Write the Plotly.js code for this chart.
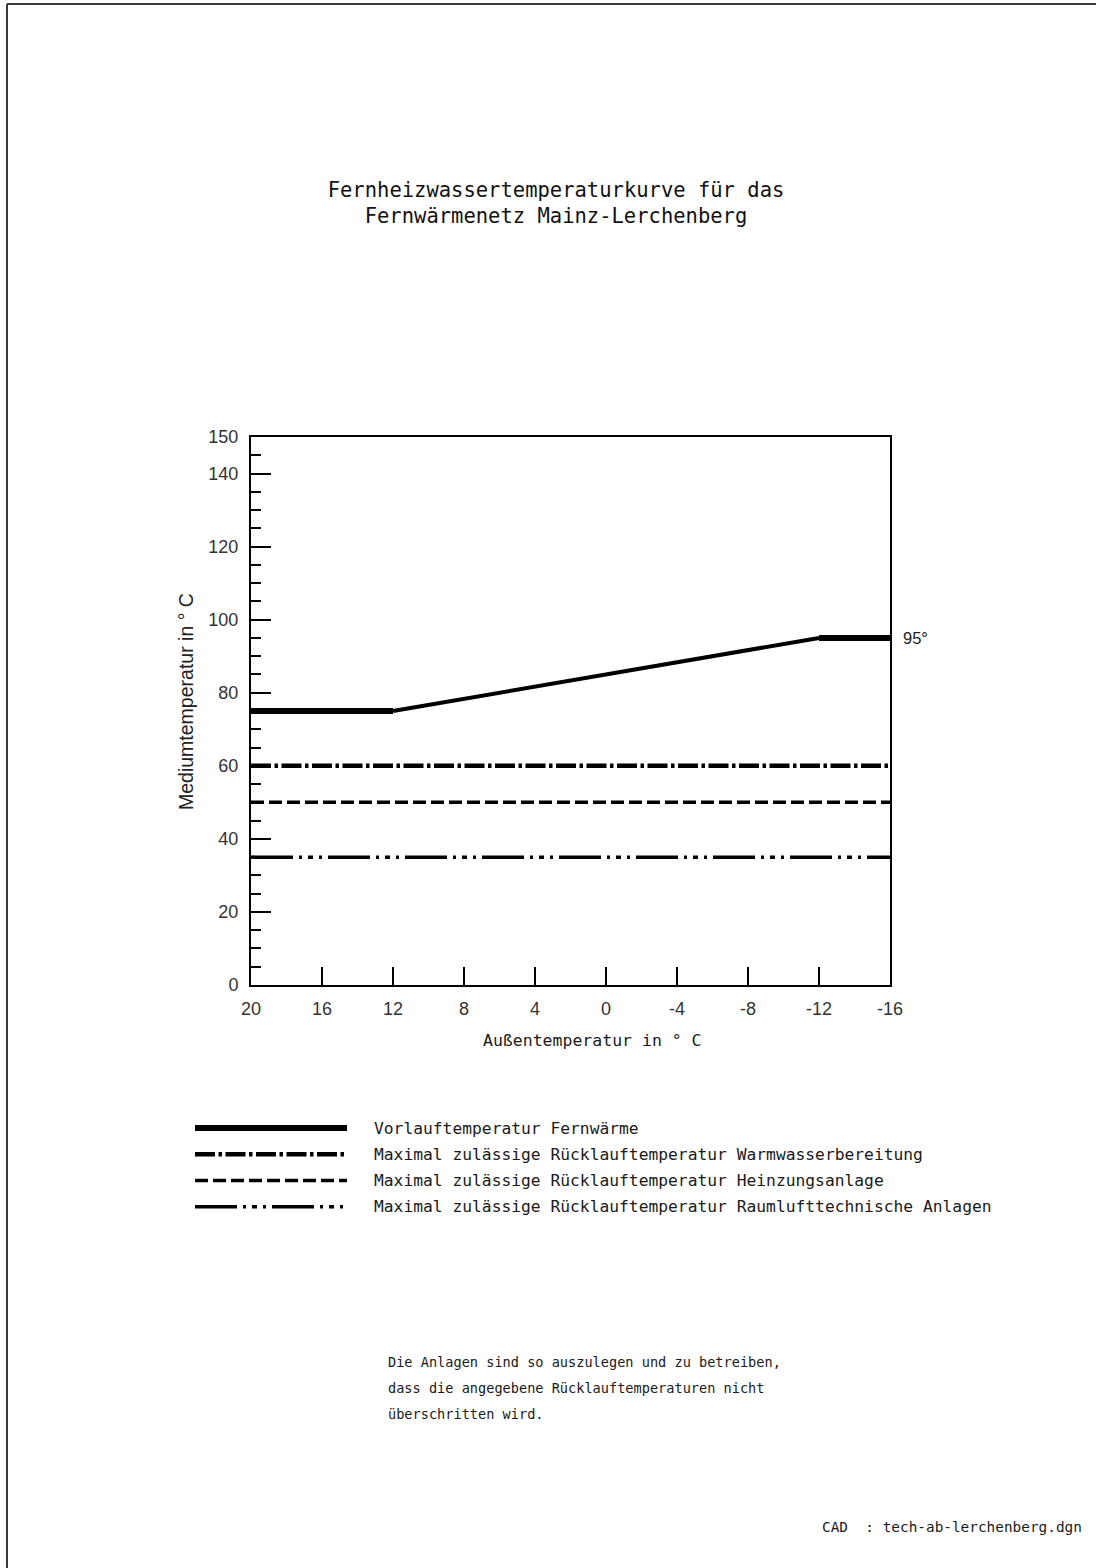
<!DOCTYPE html>
<html>
<head>
<meta charset="utf-8">
<script src="https://cdn.plot.ly/plotly-3.0.1.min.js"></script>
<style>
  html, body { margin: 0; padding: 0; background: #fff; }
  #chart { width: 1096px; height: 1568px; }
</style>
</head>
<body>
<div id="chart"></div>
<script>
// ---- data ----
const outsideTemp = [20, 12, -12, -16];          // Außentemperatur in °C
const supplyTemp  = [75, 75, 95, 95];            // Vorlauftemperatur Fernwärme
const returnX = [20, -16];
const returnWarmWater = [60, 60];                // Warmwasserbereitung
const returnHeating   = [50, 50];                // Heizungsanlage
const returnHVAC      = [35, 35];                // Raumlufttechnische Anlagen

const xTickVals = [20, 16, 12, 8, 4, 0, -4, -8, -12, -16];
const xTickText = ['20', '16', '12', '8', '4', '0', '-4', '-8', '-12', '-16'];
const yTickVals = [0, 20, 40, 60, 80, 100, 120, 140, 150];
const yTickText = ['0', '20', '40', '60', '80', '100', '120', '140', '150'];

const legendLabels = [
  'Vorlauftemperatur Fernwärme',
  'Maximal zulässige Rücklauftemperatur Warmwasserbereitung',
  'Maximal zulässige Rücklauftemperatur Heinzungsanlage',
  'Maximal zulässige Rücklauftemperatur Raumlufttechnische Anlagen'
];
const legendRows = [0, 1, 2, 3];
const legendX = [0, 1];

const titleText = 'Fernheizwassertemperaturkurve für das<br>Fernwärmenetz Mainz-Lerchenberg';
const xTitle = 'Außentemperatur in ° C';
const yTitle = 'Mediumtemperatur in ° C';
const endLabel = '95°';
const noteLines = [
  'Die Anlagen sind so auszulegen und zu betreiben,',
  'dass die angegebene Rücklauftemperaturen nicht',
  'überschritten wird.'
];
const cadText = 'CAD  : tech-ab-lerchenberg.dgn';

// ---- layout helpers ----
const W = 1096, H = 1568;
const px = v => v / W;
const py = v => 1 - v / H;
const CAD_FONT = 'DejaVu Sans Mono';
const SANS = 'Liberation Sans, Arial, sans-serif';

const styles = [
  { width: 6, dash: 'solid' },
  { width: 4.5, dash: '20px,3.5px,3.5px,3.5px' },
  { width: 3.5, dash: '13px,5px' },
  { width: 3.5, dash: '42px,6px,3px,6px,5px,6px,3px,6px' }
];

const traces = [
  // supply temperature: flat parts thicker, slope thinner
  { x: outsideTemp.slice(0, 2), y: supplyTemp.slice(0, 2), mode: 'lines', line: { color: '#000', width: 6 } },
  { x: outsideTemp.slice(1, 3), y: supplyTemp.slice(1, 3), mode: 'lines', line: { color: '#000', width: 4 } },
  { x: outsideTemp.slice(2, 4), y: supplyTemp.slice(2, 4), mode: 'lines', line: { color: '#000', width: 6 } },
  { x: returnX, y: returnWarmWater, mode: 'lines', line: { color: '#000', width: styles[1].width, dash: styles[1].dash } },
  { x: returnX, y: returnHeating,   mode: 'lines', line: { color: '#000', width: styles[2].width, dash: styles[2].dash } },
  { x: returnX, y: returnHVAC,      mode: 'lines', line: { color: '#000', width: styles[3].width, dash: styles[3].dash } }
];

// legend samples on a hidden second pair of axes
legendRows.forEach(i => {
  traces.push({
    x: legendX, y: [i, i], xaxis: 'x2', yaxis: 'y2', mode: 'lines',
    line: { color: '#000', width: styles[i].width, dash: styles[i].dash }
  });
});

const annotations = [];
legendRows.forEach(i => {
  annotations.push({
    text: legendLabels[i], xref: 'paper', yref: 'y2', x: px(372), y: i,
    xanchor: 'left', yanchor: 'middle', showarrow: false,
    font: { family: CAD_FONT, size: 16.3, color: '#1a1a1a' }
  });
});
annotations.push({
  text: endLabel, xref: 'x', yref: 'y', x: -16, y: 95, xanchor: 'left', yanchor: 'middle',
  xshift: 11, showarrow: false, font: { family: SANS, size: 16.5, color: '#222' }
});
annotations.push({
  text: xTitle, xref: 'paper', yref: 'paper', x: px(592), y: py(1040), xanchor: 'center', yanchor: 'middle',
  showarrow: false, font: { family: CAD_FONT, size: 16.5, color: '#1a1a1a' }
});
annotations.push({
  text: yTitle, xref: 'paper', yref: 'paper', x: px(186), y: py(702), xanchor: 'center', yanchor: 'middle',
  textangle: -90, showarrow: false, font: { family: SANS, size: 19.5, color: '#222' }
});
noteLines.forEach((t, k) => {
  annotations.push({
    text: t, xref: 'paper', yref: 'paper', x: px(386), y: py(1362 + 26 * k), xanchor: 'left', yanchor: 'middle',
    showarrow: false, font: { family: CAD_FONT, size: 13.6, color: '#1a1a1a' }
  });
});
annotations.push({
  text: cadText, xref: 'paper', yref: 'paper', x: px(1084), y: py(1527), xanchor: 'right', yanchor: 'middle',
  showarrow: false, font: { family: CAD_FONT, size: 14.4, color: '#1a1a1a' }
});

const layout = {
  width: W, height: H,
  margin: { l: 0, r: 0, t: 0, b: 0, pad: 0 },
  paper_bgcolor: '#fff', plot_bgcolor: '#fff',
  showlegend: false,
  title: {
    text: titleText, xref: 'paper', yref: 'container', x: px(556), y: py(196.5),
    xanchor: 'center', yanchor: 'middle',
    font: { family: CAD_FONT, size: 20.5, color: '#111' }
  },
  xaxis: {
    domain: [px(251), px(890)], range: [20, -16], anchor: 'y',
    tickmode: 'array', tickvals: xTickVals, ticktext: xTickText,
    ticks: 'inside', ticklen: 18, tickwidth: 2, tickcolor: '#000',
    showline: true, linecolor: '#000', linewidth: 2, mirror: true,
    showgrid: false, zeroline: false, ticklabelstandoff: 6,
    tickfont: { family: SANS, size: 18, color: '#333' }
  },
  yaxis: {
    domain: [py(985), py(437)], range: [0, 150], anchor: 'x',
    tickmode: 'array', tickvals: yTickVals, ticktext: yTickText,
    ticks: 'inside', ticklen: 20, tickwidth: 2, tickcolor: '#000',
    minor: { tickmode: 'linear', tick0: 0, dtick: 5, ticks: 'inside', ticklen: 10, tickwidth: 2, tickcolor: '#000', showgrid: false },
    showline: true, linecolor: '#000', linewidth: 2, mirror: true,
    showgrid: false, zeroline: false, ticklabelstandoff: 7,
    tickfont: { family: SANS, size: 18, color: '#333' }
  },
  xaxis2: { domain: [px(195), px(347)], range: [0, 1], anchor: 'y2', visible: false, fixedrange: true },
  yaxis2: { domain: [py(1220), py(1115)], range: [3.5, -0.5], anchor: 'x2', visible: false, fixedrange: true },
  annotations: annotations,
  shapes: [
    { type: 'line', xref: 'paper', yref: 'paper', x0: px(7), x1: 1, y0: py(4), y1: py(4), line: { color: '#3a3a3a', width: 2 } },
    { type: 'line', xref: 'paper', yref: 'paper', x0: px(7), x1: px(7), y0: py(4), y1: 0, line: { color: '#3a3a3a', width: 2 } }
  ]
};

Plotly.newPlot('chart', traces, layout, { displayModeBar: false, staticPlot: true });
</script>
</body>
</html>
